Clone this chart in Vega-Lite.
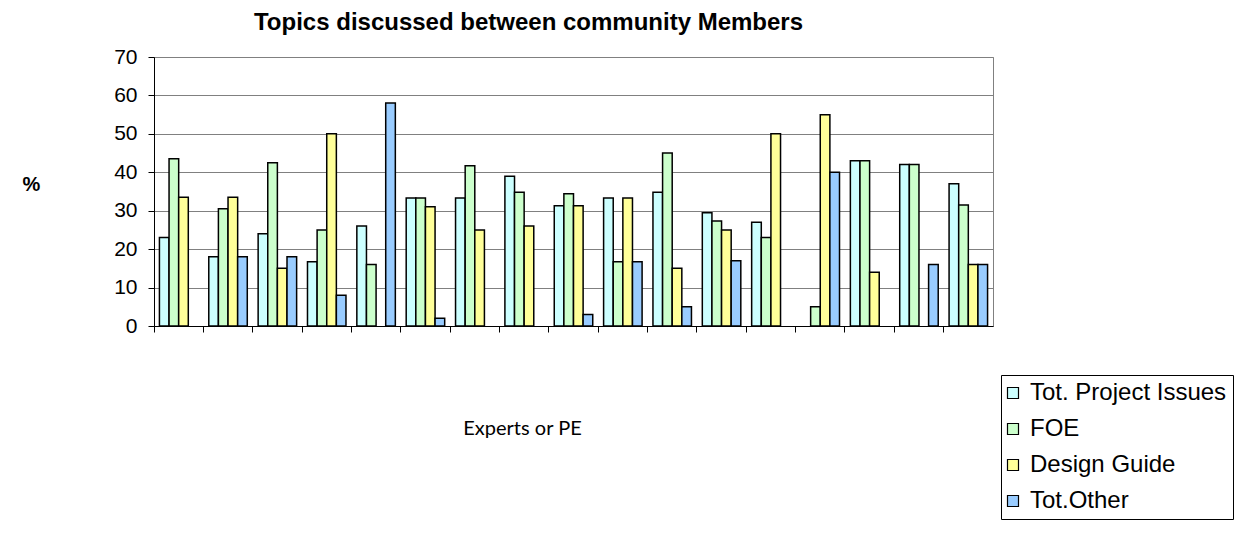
{
  "$schema": "https://vega.github.io/schema/vega-lite/v6.json",
  "width": 839,
  "height": 269,
  "autosize": {"type": "none"},
  "padding": {"left": 154, "top": 57, "right": 257, "bottom": 217},
  "background": "white",
  "title": {
    "text": "Topics discussed between community Members",
    "font": "Liberation Sans",
    "fontSize": 24,
    "fontWeight": "bold",
    "color": "black",
    "anchor": "middle",
    "dx": -45,
    "baseline": "alphabetic",
    "offset": -8
  },
  "config": {
    "view": {"stroke": "#808080", "strokeWidth": 1}
  },
  "data": {
    "values": [
      {"group": 1, "series": "Tot. Project Issues", "value": 23},
      {"group": 1, "series": "FOE", "value": 43.5},
      {"group": 1, "series": "Design Guide", "value": 33.5},
      {"group": 2, "series": "Tot. Project Issues", "value": 18},
      {"group": 2, "series": "FOE", "value": 30.5},
      {"group": 2, "series": "Design Guide", "value": 33.5},
      {"group": 2, "series": "Tot.Other", "value": 18},
      {"group": 3, "series": "Tot. Project Issues", "value": 24},
      {"group": 3, "series": "FOE", "value": 42.5},
      {"group": 3, "series": "Design Guide", "value": 15},
      {"group": 3, "series": "Tot.Other", "value": 18},
      {"group": 4, "series": "Tot. Project Issues", "value": 16.7},
      {"group": 4, "series": "FOE", "value": 25},
      {"group": 4, "series": "Design Guide", "value": 50},
      {"group": 4, "series": "Tot.Other", "value": 8},
      {"group": 5, "series": "Tot. Project Issues", "value": 26},
      {"group": 5, "series": "FOE", "value": 16},
      {"group": 5, "series": "Tot.Other", "value": 58},
      {"group": 6, "series": "Tot. Project Issues", "value": 33.3},
      {"group": 6, "series": "FOE", "value": 33.3},
      {"group": 6, "series": "Design Guide", "value": 31},
      {"group": 6, "series": "Tot.Other", "value": 2},
      {"group": 7, "series": "Tot. Project Issues", "value": 33.3},
      {"group": 7, "series": "FOE", "value": 41.7},
      {"group": 7, "series": "Design Guide", "value": 25},
      {"group": 8, "series": "Tot. Project Issues", "value": 39},
      {"group": 8, "series": "FOE", "value": 34.8},
      {"group": 8, "series": "Design Guide", "value": 26},
      {"group": 9, "series": "Tot. Project Issues", "value": 31.3},
      {"group": 9, "series": "FOE", "value": 34.4},
      {"group": 9, "series": "Design Guide", "value": 31.3},
      {"group": 9, "series": "Tot.Other", "value": 3},
      {"group": 10, "series": "Tot. Project Issues", "value": 33.3},
      {"group": 10, "series": "FOE", "value": 16.7},
      {"group": 10, "series": "Design Guide", "value": 33.3},
      {"group": 10, "series": "Tot.Other", "value": 16.7},
      {"group": 11, "series": "Tot. Project Issues", "value": 34.8},
      {"group": 11, "series": "FOE", "value": 45},
      {"group": 11, "series": "Design Guide", "value": 15},
      {"group": 11, "series": "Tot.Other", "value": 5},
      {"group": 12, "series": "Tot. Project Issues", "value": 29.5},
      {"group": 12, "series": "FOE", "value": 27.3},
      {"group": 12, "series": "Design Guide", "value": 25},
      {"group": 12, "series": "Tot.Other", "value": 17},
      {"group": 13, "series": "Tot. Project Issues", "value": 27},
      {"group": 13, "series": "FOE", "value": 23},
      {"group": 13, "series": "Design Guide", "value": 50},
      {"group": 14, "series": "FOE", "value": 5},
      {"group": 14, "series": "Design Guide", "value": 55},
      {"group": 14, "series": "Tot.Other", "value": 40},
      {"group": 15, "series": "Tot. Project Issues", "value": 43},
      {"group": 15, "series": "FOE", "value": 43},
      {"group": 15, "series": "Design Guide", "value": 14},
      {"group": 16, "series": "Tot. Project Issues", "value": 42},
      {"group": 16, "series": "FOE", "value": 42},
      {"group": 16, "series": "Tot.Other", "value": 16},
      {"group": 17, "series": "Tot. Project Issues", "value": 37},
      {"group": 17, "series": "FOE", "value": 31.5},
      {"group": 17, "series": "Design Guide", "value": 16},
      {"group": 17, "series": "Tot.Other", "value": 16}
    ]
  },
  "mark": {"type": "bar", "stroke": "black", "strokeWidth": 1.5},
  "encoding": {
    "x": {
      "field": "group",
      "type": "ordinal",
      "scale": {"domain": [1,2,3,4,5,6,7,8,9,10,11,12,13,14,15,16,17], "paddingInner": 0, "paddingOuter": 0},
      "axis": {
        "labels": false,
        "title": "Experts or PE",
        "domainColor": "black",
        "domainWidth": 1,
        "tickColor": "black",
        "tickSize": 6,
        "bandPosition": 0,
        "titleFont": "Lato",
        "titleFontSize": 20,
        "titleFontWeight": "normal",
        "titleColor": "black",
        "titleX": 368,
        "titleY": 102,
        "titleAlign": "center",
        "titleBaseline": "middle"
      }
    },
    "xOffset": {
      "field": "series",
      "type": "nominal",
      "scale": {"domain": ["Tot. Project Issues", "FOE", "Design Guide", "Tot.Other"], "paddingInner": 0, "paddingOuter": 0.564}
    },
    "y": {
      "field": "value",
      "type": "quantitative",
      "scale": {"domain": [0, 70], "nice": false},
      "axis": {
        "values": [0, 10, 20, 30, 40, 50, 60, 70],
        "title": "%",
        "titleAngle": 0,
        "titleFont": "Liberation Sans",
        "titleFontSize": 20,
        "titleFontWeight": "bold",
        "titleColor": "black",
        "titleX": -123,
        "titleY": 127,
        "titleAlign": "center",
        "titleBaseline": "middle",
        "labelFont": "Liberation Sans",
        "labelFontSize": 21,
        "labelColor": "black",
        "labelPadding": 11,
        "domainColor": "black",
        "tickColor": "black",
        "tickSize": 6,
        "gridColor": "#808080",
        "gridWidth": 1
      }
    },
    "color": {
      "field": "series",
      "type": "nominal",
      "scale": {"domain": ["Tot. Project Issues", "FOE", "Design Guide", "Tot.Other"], "range": ["#CCFFFF", "#CCFFCC", "#FFFF99", "#99CCFF"]},
      "legend": {
        "orient": "none",
        "legendX": 847,
        "legendY": 318,
        "title": null,
        "strokeColor": "black",
        "padding": 6,
        "symbolType": "square",
        "symbolSize": 121,
        "symbolOffset": -6,
        "symbolStrokeColor": "black",
        "symbolStrokeWidth": 1.2,
        "symbolOpacity": 1,
        "labelFont": "Liberation Sans",
        "labelFontSize": 24,
        "labelColor": "black",
        "labelOffset": 5,
        "rowPadding": 12,
        "labelLimit": 400
      }
    }
  }
}
